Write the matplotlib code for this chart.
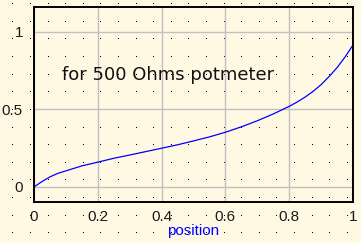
import numpy as np
import matplotlib.pyplot as plt

# wiper position vs. output
position = [0.0, 0.025, 0.05, 0.075, 0.1, 0.15, 0.2, 0.25, 0.3, 0.35, 0.4, 0.45, 0.5,
            0.55, 0.6, 0.65, 0.7, 0.75, 0.8, 0.825, 0.85, 0.875, 0.9, 0.925, 0.95,
            0.975, 1.0]
output = [0.0, 0.035, 0.065, 0.088, 0.104, 0.136, 0.16, 0.185, 0.206, 0.228, 0.25,
          0.272, 0.297, 0.323, 0.353, 0.388, 0.427, 0.471, 0.52, 0.548, 0.58,
          0.617, 0.66, 0.712, 0.77, 0.838, 0.916]
xticks = [0, 0.2, 0.4, 0.6, 0.8, 1]
xticklabels = ['0', '0.2', '0.4', '0.6', '0.8', '1']
yticks = [0, 0.5, 1]
yticklabels = ['0', '0.5', '1']
note = 'for 500 Ohms potmeter'

W, H = 361, 243
bgcol = '#fff9e3'
fig = plt.figure(figsize=(W / 100, H / 100), dpi=100, facecolor=bgcol)

# dotted paper in the background
bg = fig.add_axes([0, 0, 1, 1], zorder=0)
bg.set_xlim(0, W)
bg.set_ylim(H, 0)
bg.axis('off')
gx, gy = np.meshgrid(np.arange(12.3, W, 17.6), np.arange(4.3, H, 17.6))
bg.plot(gx.ravel(), gy.ravel(), ',', color='black')

ax = fig.add_axes([34 / W, (H - 202) / H, 319 / W, 195 / H], zorder=1)
ax.set_facecolor('none')
ax.plot(position, output, color='#0000ff', lw=0.9)
ax.set_xlim(0, 1)
ax.set_ylim(-0.097, 1.161)
ax.set_xticks(xticks)
ax.set_xticklabels(xticklabels)
ax.set_yticks(yticks)
ax.set_yticklabels(yticklabels)
ax.grid(True, color='#c0c0c0', lw=1.0)
ax.tick_params(length=0, labelsize=11, labelcolor='#1a1a1a')
ax.tick_params(axis='x', pad=6)
ax.tick_params(axis='y', pad=8)
for lab in ax.get_xticklabels() + ax.get_yticklabels():
    lab.set_fontfamily('Liberation Sans')
for sp in ax.spines.values():
    sp.set_linewidth(1.4)
    sp.set_color('black')
ax.set_xlabel('position', color='#0000ff', fontsize=11, family='Liberation Sans', labelpad=0)
ax.text(0.088, 0.72, note, fontsize=13, va='center', ha='left', color='#111111',
        family='DejaVu Sans')

fig.savefig('out.png', dpi=100, facecolor=bgcol)
